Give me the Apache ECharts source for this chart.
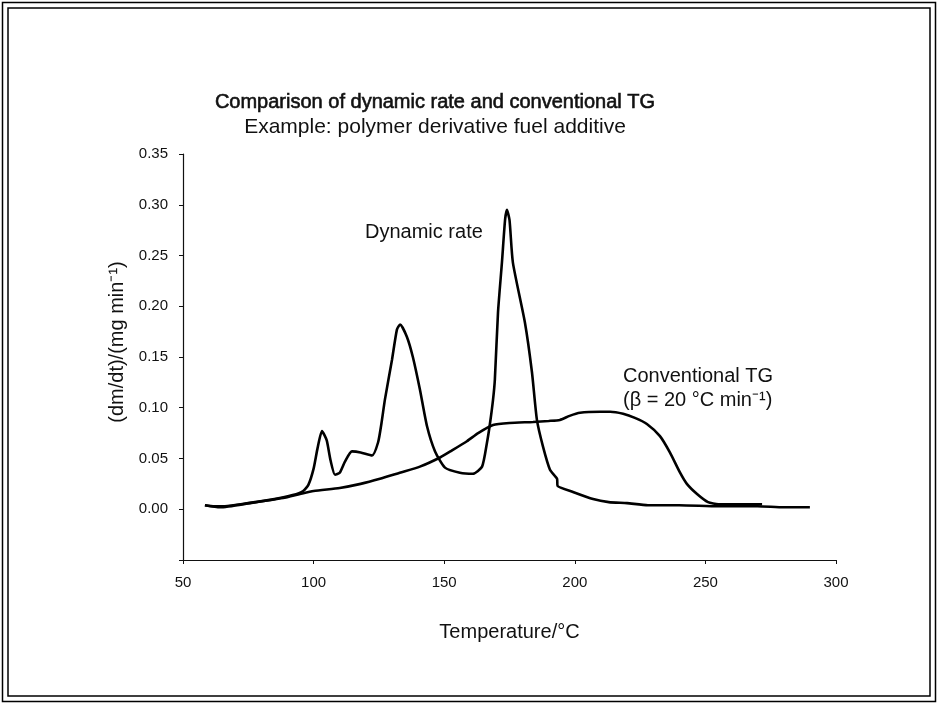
<!DOCTYPE html>
<html>
<head>
<meta charset="utf-8">
<script src="https://cdn.jsdelivr.net/npm/echarts@6/dist/echarts.min.js"></script>
<style>
html,body{margin:0;padding:0;background:#fff;}
#chart{width:938px;height:704px;}
</style>
</head>
<body>
<div id="chart"></div>
<script>
var titleText = 'Comparison of dynamic rate and conventional TG';
var subtitleText = 'Example: polymer derivative fuel additive';
var xTicks = [50, 100, 150, 200, 250, 300];
var yTicks = [0.00, 0.05, 0.10, 0.15, 0.20, 0.25, 0.30, 0.35];

var dynamicT = [58.4, 62, 66, 75, 85, 92, 96, 98, 100, 101.5, 103.2, 105, 106.5, 108.2, 110, 112, 114.7, 118, 122.4, 124.7, 126, 127.3, 130, 131.9, 133.1, 135.7, 138, 140.7, 143.4, 146.5, 150.3, 156, 161, 164.5, 166.4, 167.5, 168.7, 169.4, 170.6, 172.1, 173.3, 174, 175, 176.3, 180.9, 183.6, 185.5, 187.8, 190.5, 193.2, 193.4, 199.3, 207, 213, 220, 228, 240, 255, 270, 280, 290];
var dynamicV = [0.004, 0.003, 0.003, 0.006, 0.010, 0.014, 0.018, 0.024, 0.040, 0.060, 0.077, 0.068, 0.048, 0.034, 0.036, 0.047, 0.057, 0.056, 0.053, 0.066, 0.085, 0.108, 0.147, 0.177, 0.182, 0.170, 0.150, 0.118, 0.082, 0.057, 0.041, 0.036, 0.035, 0.042, 0.066, 0.084, 0.108, 0.128, 0.194, 0.243, 0.285, 0.295, 0.285, 0.243, 0.184, 0.135, 0.088, 0.062, 0.039, 0.030, 0.023, 0.017, 0.010, 0.007, 0.006, 0.004, 0.004, 0.003, 0.003, 0.002, 0.002];

var convT = [58.4, 64.2, 75.6, 88.3, 94.8, 100, 110, 118, 125.4, 133, 140.7, 148.4, 153, 158.7, 163, 168.7, 175, 184, 190, 194.3, 198, 202, 209.7, 213.5, 218.5, 223, 227.6, 232.6, 236.4, 240.3, 242.9, 246.8, 251, 255, 262, 271.7];
var convV = [0.004, 0.002, 0.006, 0.011, 0.015, 0.018, 0.021, 0.025, 0.030, 0.036, 0.042, 0.051, 0.058, 0.067, 0.075, 0.083, 0.085, 0.086, 0.087, 0.088, 0.092, 0.095, 0.096, 0.096, 0.094, 0.090, 0.084, 0.072, 0.056, 0.036, 0.025, 0.015, 0.007, 0.005, 0.005, 0.005];

function zip(a, b) { return a.map(function (v, i) { return [v, b[i]]; }); }

var FONT = '"Liberation Sans", Arial, sans-serif';
var chart = echarts.init(document.getElementById('chart'));
chart.setOption({
  backgroundColor: '#fff',
  animation: false,
  title: {
    text: titleText,
    subtext: subtitleText,
    left: 430, top: 87, textAlign: 'center',
    itemGap: 4,
    textStyle: { fontFamily: FONT, fontSize: 20, fontWeight: 'normal', color: '#111', textBorderColor: '#111', textBorderWidth: 0.6 },
    subtextStyle: { fontFamily: FONT, fontSize: 21, color: '#111' }
  },
  grid: { left: 183, right: 102, top: 154, bottom: 144 },
  xAxis: {
    type: 'value', min: 50, max: 300, interval: 50,
    name: 'Temperature/°C', nameLocation: 'middle', nameGap: 62,
    nameTextStyle: { fontFamily: FONT, fontSize: 20, color: '#111' },
    axisLine: { onZero: false, lineStyle: { color: '#111', width: 1.2 } },
    axisTick: { show: true, length: 4, lineStyle: { color: '#111' } },
    axisLabel: { fontFamily: FONT, fontSize: 15, color: '#111', margin: 15 },
    splitLine: { show: false }
  },
  yAxis: {
    type: 'value', min: -0.05, max: 0.35, interval: 0.05,
    name: '(dm/dt)/(mg min⁻¹)', nameLocation: 'middle', nameGap: 55,
    nameTextStyle: { fontFamily: FONT, fontSize: 20, color: '#111', padding: [0, 0, 0, 30] },
    axisLine: { show: true, lineStyle: { color: '#111', width: 1.2 } },
    axisTick: { show: true, length: 4, lineStyle: { color: '#111' } },
    axisLabel: {
      fontFamily: FONT, fontSize: 15, color: '#111', margin: 15,
      formatter: function (v) { return v < -0.001 ? '' : v.toFixed(2); }
    },
    splitLine: { show: false }
  },
  series: [
    {
      name: 'Dynamic rate', type: 'line', data: zip(dynamicT, dynamicV),
      smooth: 0.2, showSymbol: false,
      lineStyle: { color: '#000', width: 2.6 }
    },
    {
      name: 'Conventional TG', type: 'line', data: zip(convT, convV),
      smooth: 0.2, showSymbol: false,
      lineStyle: { color: '#000', width: 2.6 }
    }
  ],
  graphic: [
    { type: 'rect', shape: { x: 2.5, y: 2.5, width: 933, height: 699 }, style: { fill: 'none', stroke: '#000', lineWidth: 1.5 } },
    { type: 'rect', shape: { x: 8, y: 8, width: 922, height: 688 }, style: { fill: 'none', stroke: '#000', lineWidth: 1.5 } },
    { type: 'text', left: 365, top: 222, style: { text: 'Dynamic rate', font: '20px "Liberation Sans", Arial, sans-serif', fill: '#111' } },
    { type: 'text', left: 623, top: 366, style: { text: 'Conventional TG', font: '20px "Liberation Sans", Arial, sans-serif', fill: '#111' } },
    { type: 'text', left: 623, top: 390, style: { text: '(β = 20 °C min⁻¹)', font: '20px "Liberation Sans", Arial, sans-serif', fill: '#111' } }
  ]
});
</script>
</body>
</html>
